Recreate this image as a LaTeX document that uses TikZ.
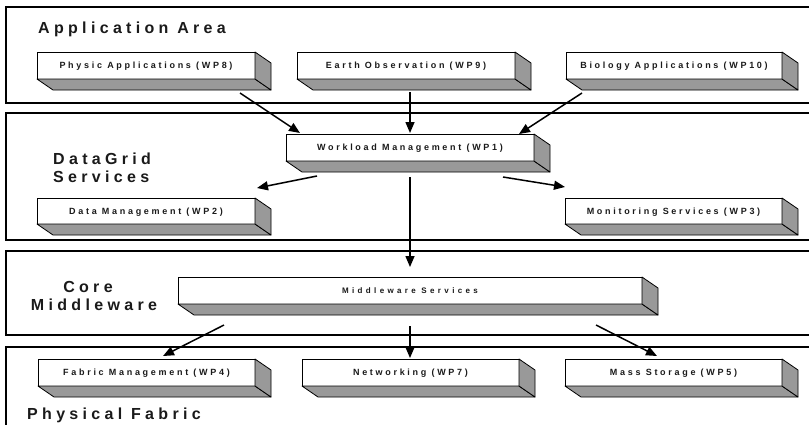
\documentclass[tikz,border=0pt]{standalone}
\usepackage{fontspec}
\setmainfont{Liberation Sans}
\newfontfamily\titlefont[LetterSpace=27]{Liberation Sans}
\newfontfamily\boxfont[LetterSpace=30]{Liberation Sans}
\newfontfamily\narrowfont[LetterSpace=42]{Liberation Sans}
\usetikzlibrary{arrows.meta,calc}
\definecolor{shadegray}{HTML}{999999}
\definecolor{inkgray}{HTML}{1A1A1A}
\newcommand\boxdepth[1]{%
  \draw[shadeface] (#1.south west) -- (#1.south east) -- ([shift={(16,11)}]#1.south east) -- ([shift={(16,11)}]#1.south west) -- cycle;
  \draw[shadeface] (#1.north east) -- ([shift={(16,11)}]#1.north east) -- ([shift={(16,11)}]#1.south east) -- (#1.south east) -- cycle;
}
\begin{document}
\begin{tikzpicture}[x=1pt,y=-1pt,
  band/.style={draw=black,line width=1.6pt},
  front/.style={draw=black,line width=0.8pt,fill=white,inner sep=0pt,outer sep=0pt,
    minimum height=27pt,text height=6.4pt,text depth=0pt,text=inkgray,
    font=\boxfont\bfseries\fontsize{9}{11}\selectfont},
  frontsmall/.style={front,font=\narrowfont\bfseries\fontsize{8}{10}\selectfont,text height=5.7pt},
  shadeface/.style={fill=shadegray,draw=black,line width=0.8pt,line join=round},
  bandlabel/.style={font=\titlefont\bfseries\fontsize{16}{18}\selectfont,inner sep=0pt,text=inkgray},
  conn/.style={line width=1.5pt,-{Triangle[length=11pt,width=9pt]}}
]
\useasboundingbox (0,0) rectangle (809,424);

% bands
\draw[band] (6,7) rectangle (825,103);
\draw[band] (6,113) rectangle (825,240);
\draw[band] (6,251) rectangle (825,335);
\draw[band] (6,347) rectangle (825,440);

% band labels
\node[bandlabel,anchor=base west] (tApp) at (38,33) {Application Area};
\node[bandlabel,anchor=base west] (tDG) at (53,164) {DataGrid};
\node[bandlabel,anchor=base west] (tSv) at (53,182) {Services};
\node[bandlabel,anchor=base] (tCore) at (88,292) {Core};
\node[bandlabel,anchor=base] (tMw) at (94,310) {Middleware};
\node[bandlabel,anchor=base west] (tPF) at (27,419) {Physical Fabric};

% boxes
\node[front,minimum width=218pt] (pa) at (146,65.5) {Physic Applications (WP8)};
\node[front,minimum width=218pt] (eo) at (406,65.5) {Earth Observation (WP9)};
\node[front,minimum width=216pt] (ba) at (674,65.5) {Biology Applications (WP10)};
\node[front,minimum width=248pt] (wm) at (410,147.5) {Workload Management (WP1)};
\node[front,minimum width=218pt,minimum height=26pt] (dm) at (146,211) {Data Management (WP2)};
\node[front,minimum width=217pt,minimum height=26pt] (mon) at (673.5,211) {Monitoring Services (WP3)};
\node[frontsmall,minimum width=464pt] (mw) at (410,290.5) {Middleware Services};
\node[front,minimum width=217pt] (fm) at (146.5,372.5) {Fabric Management (WP4)};
\node[front,minimum width=217pt] (nw) at (410.5,372.5) {Networking (WP7)};
\node[front,minimum width=217pt] (st) at (673.5,372.5) {Mass Storage (WP5)};

\boxdepth{pa}\boxdepth{eo}\boxdepth{ba}\boxdepth{wm}\boxdepth{dm}\boxdepth{mon}
\boxdepth{mw}\boxdepth{fm}\boxdepth{nw}\boxdepth{st}

% connector end points
\coordinate (paOut) at (240,93);
\coordinate (eoOut) at (410,92);
\coordinate (baOut) at (582,93);
\coordinate (wmInL) at (300,133);
\coordinate (wmInC) at (410,133);
\coordinate (wmInR) at (519,134);
\coordinate (wmOutL) at (317,176);
\coordinate (wmOutC) at (410,177);
\coordinate (wmOutR) at (503,177);
\coordinate (dmIn) at (257,188);
\coordinate (monIn) at (565,187);
\coordinate (mwIn) at (410,267);
\coordinate (mwOutL) at (224,325);
\coordinate (mwOutC) at (410,326);
\coordinate (mwOutR) at (596,325);
\coordinate (fmIn) at (163,356);
\coordinate (nwIn) at (410,358);
\coordinate (stIn) at (657,356);

\draw[conn] (paOut) -- (wmInL);
\draw[conn] (eoOut) -- (wmInC);
\draw[conn] (baOut) -- (wmInR);
\draw[conn] (wmOutL) -- (dmIn);
\draw[conn] (wmOutR) -- (monIn);
\draw[conn] (wmOutC) -- (mwIn);
\draw[conn] (mwOutL) -- (fmIn);
\draw[conn] (mwOutC) -- (nwIn);
\draw[conn] (mwOutR) -- (stIn);
\end{tikzpicture}
\end{document}
